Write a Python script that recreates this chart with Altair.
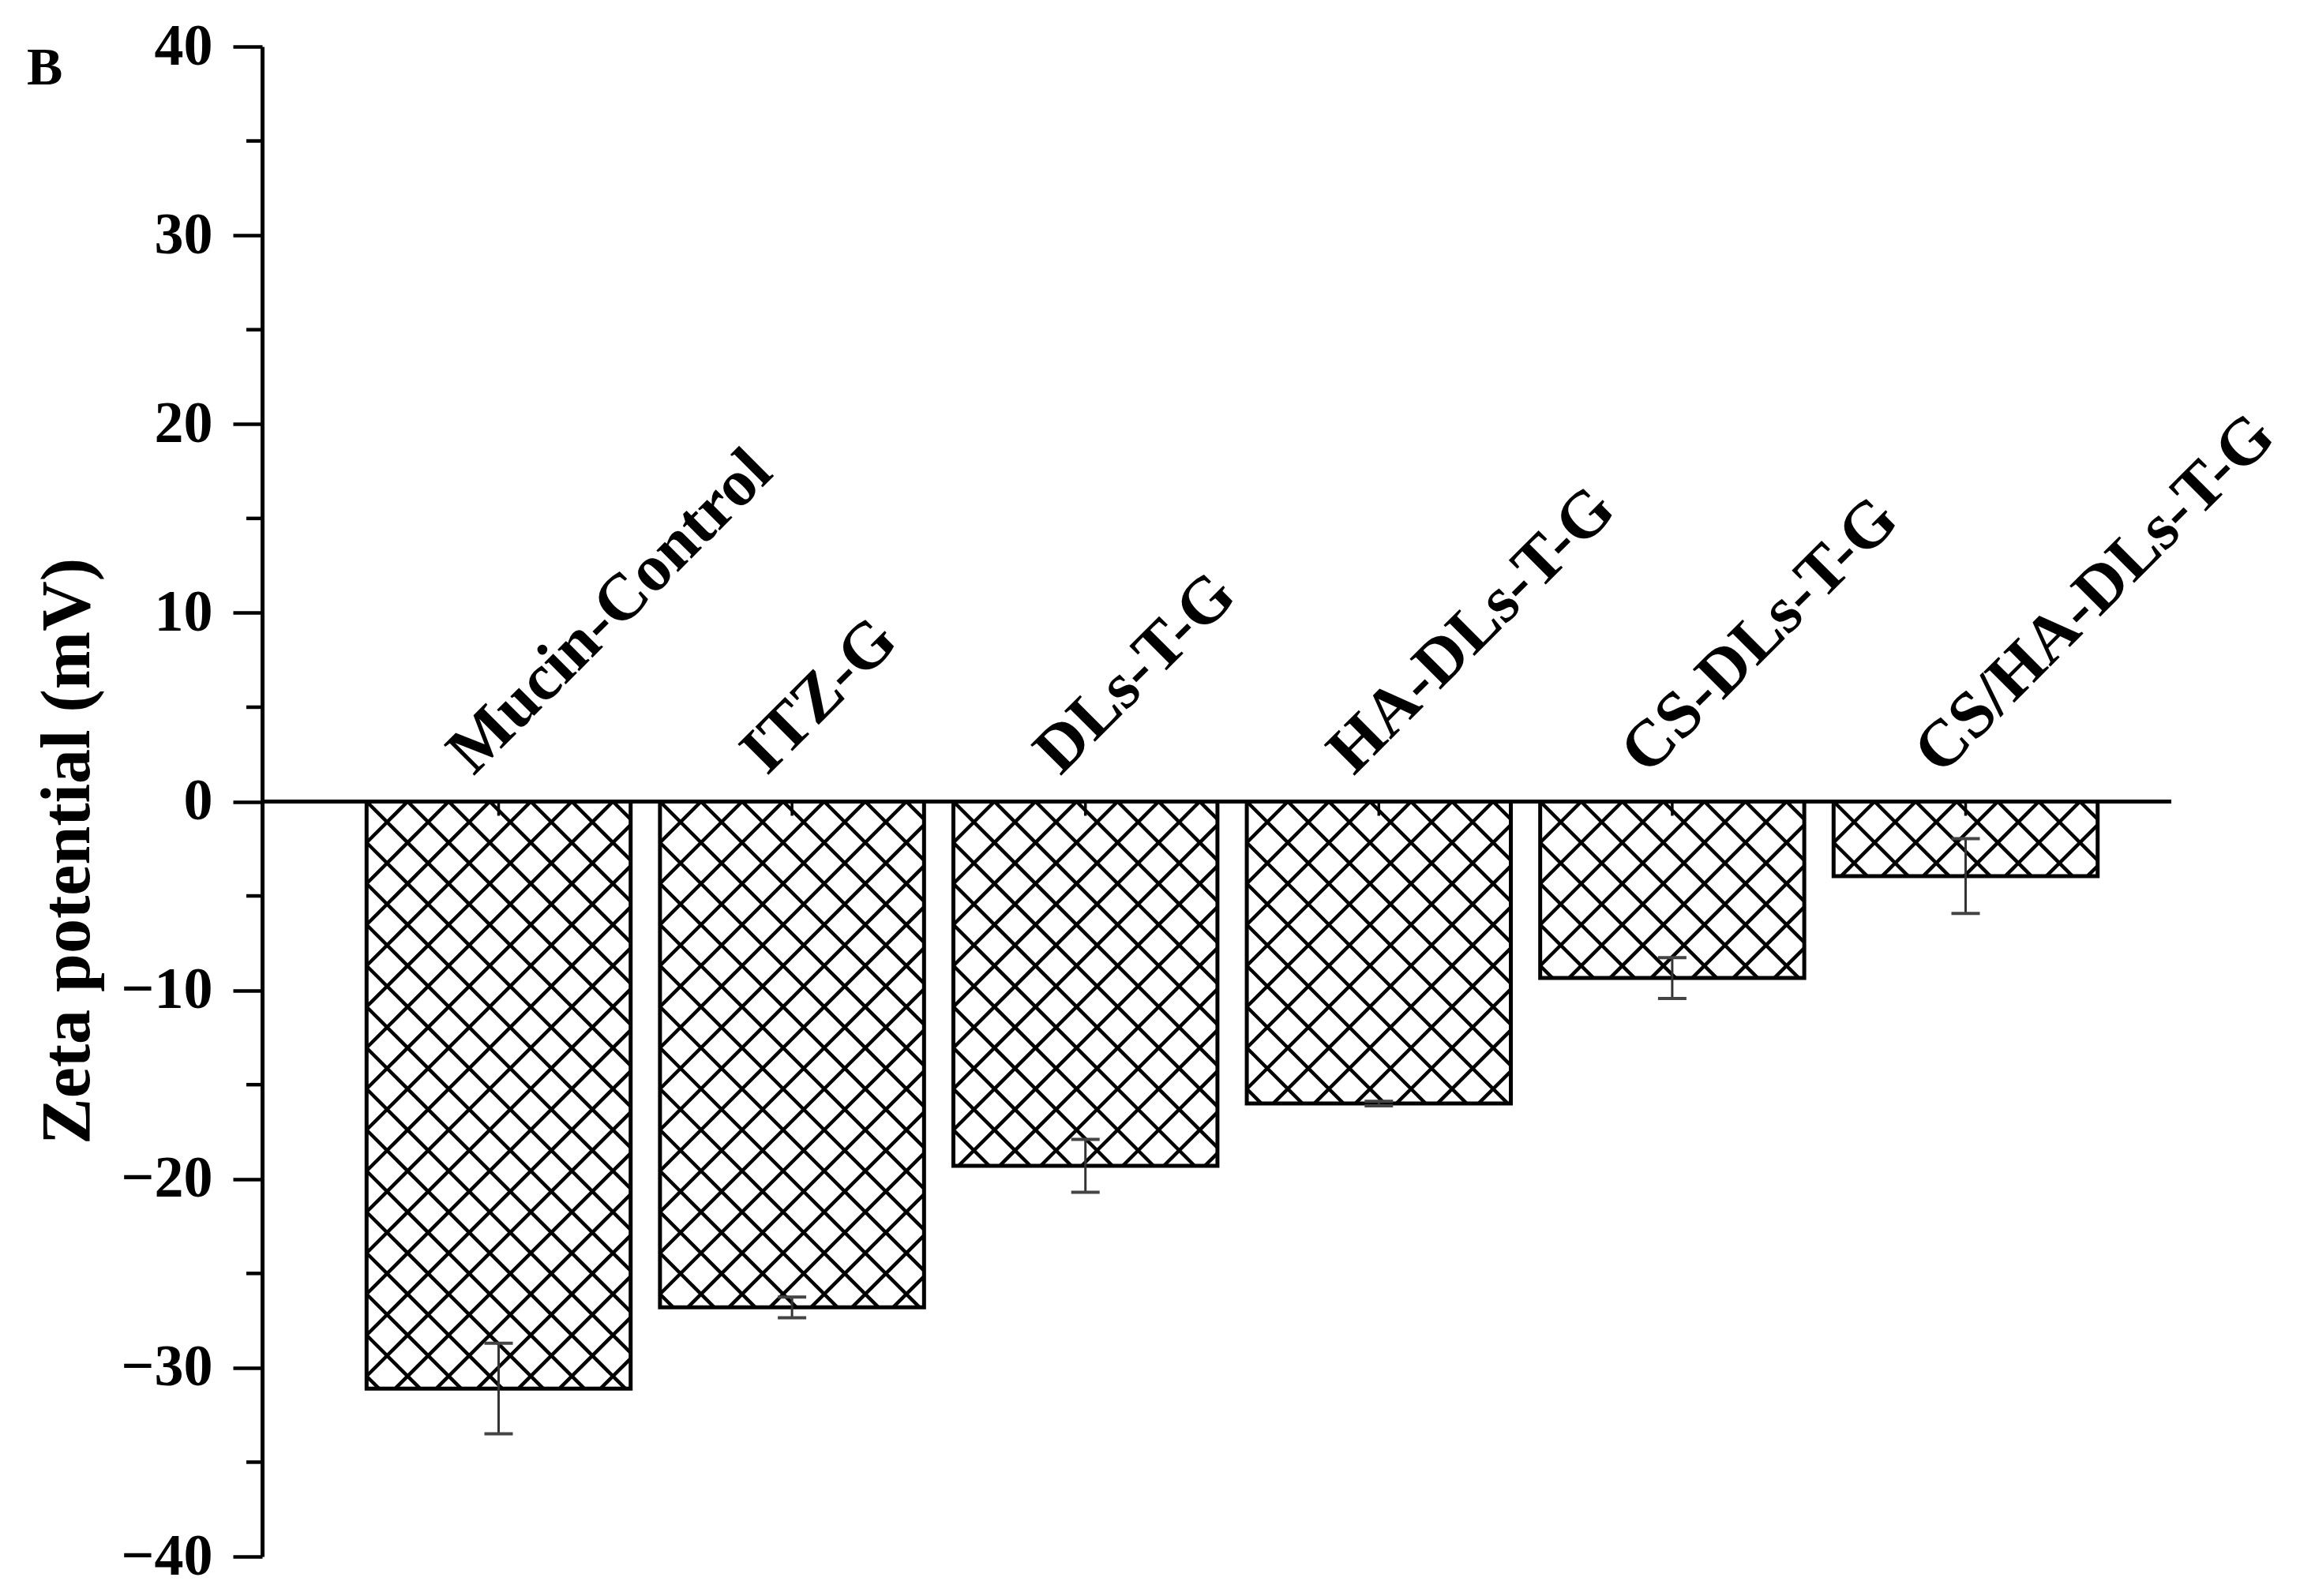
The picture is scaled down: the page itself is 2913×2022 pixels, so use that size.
import pandas as pd
import altair as alt

# ---------------- data ----------------
categories = ["Mucin-Control", "ITZ-G", "DLs-T-G", "HA-DLs-T-G", "CS-DLs-T-G", "CS/HA-DLs-T-G"]
zeta_mean = [-31.1, -26.8, -19.3, -16.0, -9.35, -3.95]
zeta_sd = [2.4, 0.55, 1.4, 0.12, 1.08, 1.98]
y_major_ticks = [-40, -30, -20, -10, 0, 10, 20, 30, 40]
y_minor_ticks = [-35, -25, -15, -5, 5, 15, 25, 35]
panel_letter = ["B"]
y_title = "Zeta potential (mV)"

# ---------------- layout / style ----------------
W, H = 2418, 1913
X_DOMAIN = [-0.806, 5.701]
Y_DOMAIN = [-40, 40]
BAR_HALF = 0.45
HATCH_PX = 52
CENTER_TICK_PX = 18
FONT = "Liberation Serif"

px_x = W / (X_DOMAIN[1] - X_DOMAIN[0])
px_y = H / (Y_DOMAIN[1] - Y_DOMAIN[0])

bars = pd.DataFrame({
    "cat": categories,
    "idx": list(range(len(categories))),
    "mean": zeta_mean,
    "sd": zeta_sd,
})
bars["left"] = bars["idx"] - BAR_HALF
bars["right"] = bars["idx"] + BAR_HALF
bars["zero"] = 0.0
bars["lo"] = bars["mean"] - bars["sd"]
bars["hi"] = bars["mean"] + bars["sd"]
bars["tick_end"] = -CENTER_TICK_PX / px_y

# cross-hatch fill lines (45 degrees in pixel space), clipped to each bar
rows = []
for i, m in enumerate(zeta_mean):
    w = 2 * BAR_HALF * px_x
    h = -m * px_y
    left = i - BAR_HALF
    kmin = -int(h // HATCH_PX) - 2
    kmax = int((w + h) // HATCH_PX) + 2
    for k in range(kmin, kmax + 1):
        c = HATCH_PX * k
        v0, v1 = max(0.0, -c), min(h, w - c)
        if v1 - v0 > 0.5:
            rows.append((left + (v0 + c) / px_x, -v0 / px_y, left + (v1 + c) / px_x, -v1 / px_y))
        v0, v1 = max(0.0, c - w), min(h, c)
        if v1 - v0 > 0.5:
            rows.append((left + (c - v0) / px_x, -v0 / px_y, left + (c - v1) / px_x, -v1 / px_y))
hatch = pd.DataFrame(rows, columns=["hx1", "hy1", "hx2", "hy2"])

xs = alt.Scale(domain=X_DOMAIN, nice=False, zero=False)
ys = alt.Scale(domain=Y_DOMAIN, nice=False, zero=False)

y_axis = alt.Axis(
    values=y_major_ticks,
    title=y_title,
    grid=False,
    domainColor="black",
    domainWidth=5,
    tickColor="black",
    tickWidth=4.5,
    tickSize=37,
    labelFont=FONT,
    labelFontSize=74,
    labelFontWeight="bold",
    labelColor="black",
    labelPadding=26,
    labelExpr="datum.value < 0 ? '\u2212' + (-datum.value) : '' + datum.value",
    titleFont=FONT,
    titleFontSize=88,
    titleFontWeight="bold",
    titleColor="black",
    titleAngle=270,
    titleAlign="center",
    titleBaseline="middle",
    titleX=-246,
    titleY=1019,
)


def X(field):
    return alt.X(field, scale=xs, axis=None)


def Y(field):
    return alt.Y(field, scale=ys, axis=y_axis)


hatch_layer = alt.Chart(hatch).mark_rule(color="black", strokeWidth=4.5).encode(
    x=X("hx1:Q"), x2="hx2:Q", y=Y("hy1:Q"), y2="hy2:Q",
)

bar_layer = alt.Chart(bars).mark_rect(fillOpacity=0, stroke="black", strokeWidth=5).encode(
    x=X("left:Q"), x2="right:Q", y=Y("zero:Q"), y2="mean:Q",
)

zero_layer = alt.Chart(pd.DataFrame({"zero": [0.0]})).mark_rule(color="black", strokeWidth=5).encode(
    y=Y("zero:Q"),
)

center_ticks = alt.Chart(bars).mark_rule(color="black", strokeWidth=3.5).encode(
    x=X("idx:Q"), y=Y("zero:Q"), y2="tick_end:Q",
)

err_layer = alt.Chart(bars).mark_rule(color="#333333", strokeWidth=3).encode(
    x=X("idx:Q"), y=Y("lo:Q"), y2="hi:Q",
)

cap_layer = alt.Chart(bars).transform_fold(["lo", "hi"], as_=["end", "val"]).mark_tick(
    orient="horizontal", size=36, thickness=4, color="#444444", opacity=1
).encode(
    x=X("idx:Q"), y=Y("val:Q"),
)

label_layer = alt.Chart(bars).mark_text(
    font=FONT, fontSize=84, fontWeight="bold", angle=315, align="left",
    baseline="alphabetic", dx=0, dy=-45, color="black",
).encode(
    x=X("idx:Q"), y=Y("zero:Q"), text="cat:N",
)

minor_layer = alt.Chart(pd.DataFrame({"m": y_minor_ticks})).mark_rule(color="black", strokeWidth=4.5).encode(
    y=Y("m:Q"), x=alt.value(-20), x2=alt.value(0),
)

letter_layer = alt.Chart(pd.DataFrame({"t": panel_letter})).mark_text(
    font=FONT, fontSize=68, fontWeight="bold", align="left", baseline="alphabetic", color="black",
).encode(
    x=alt.value(-298), y=alt.value(48), text="t:N",
)

chart = alt.layer(
    hatch_layer, bar_layer, zero_layer, center_ticks, err_layer, cap_layer,
    label_layer, minor_layer, letter_layer,
).properties(
    width=W,
    height=H,
    padding={"left": 324, "top": 51, "right": 155, "bottom": 40},
    autosize=alt.AutoSizeParams(type="none"),
    background="white",
).configure_view(strokeWidth=0)

chart.save("out.html", embed_options={"renderer": "svg", "actions": False})
